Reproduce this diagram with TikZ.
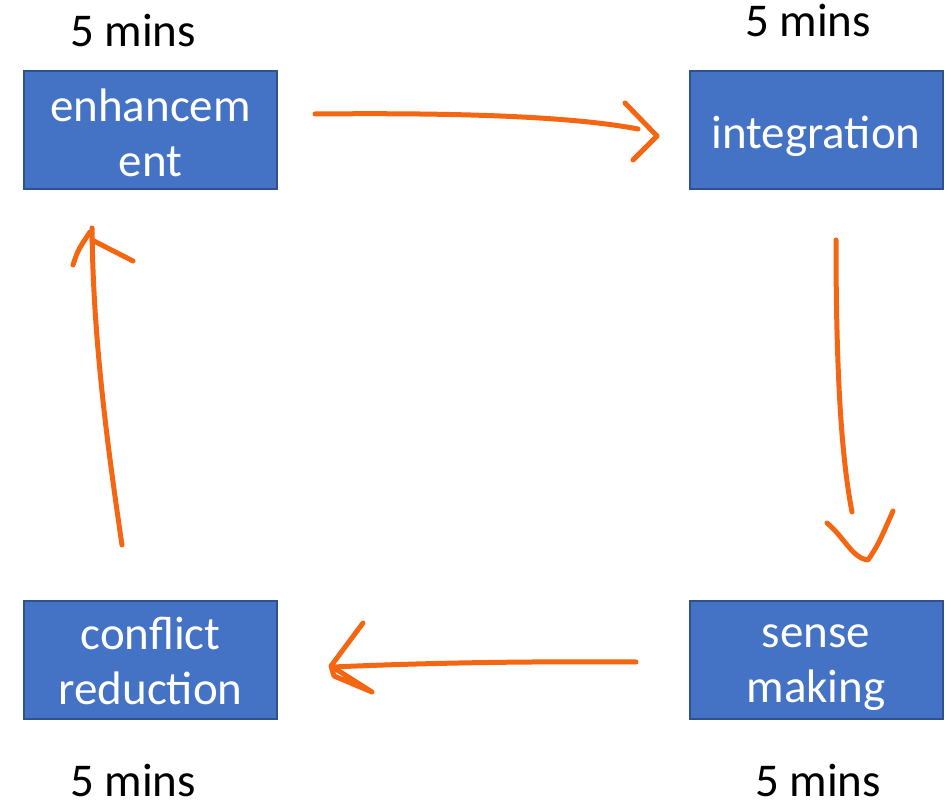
\documentclass[tikz,border=0pt]{standalone}
\usepackage{fontspec}
\setmainfont{Carlito}
\usetikzlibrary{positioning}
\definecolor{boxblue}{RGB}{68,114,196}
\definecolor{boxedge}{RGB}{47,82,143}
\definecolor{penorange}{RGB}{245,102,18}

\begin{document}
\begin{tikzpicture}[x=1pt,y=-1pt,
	stage/.style={rectangle, fill=boxblue, draw=boxedge, line width=2pt, minimum width=253pt, minimum height=118pt},
	boxtext/.style={text=white, align=center, font=\fontsize{47}{55}\selectfont},
	mins/.style={anchor=base, inner sep=0pt, font=\fontsize{47}{55}\selectfont},
	pen/.style={draw=penorange, line width=5pt, line cap=round, line join=round}]
	\useasboundingbox (0,0) rectangle (951,802);
	
	\node[stage, label={[boxtext, yshift=-3pt]center:enhancem\\ent}] (enh) at (150.5,130) {};
	\node[stage, label={[boxtext, yshift=-6pt]center:integration}] (integ) at (816,130) {};
	\node[stage, label={[boxtext, yshift=-8pt]center:sense\\making}] (sense) at (816,660) {};
	\node[stage, label={[boxtext, yshift=-1pt]center:conflict\\reduction}] (conf) at (150.5,660) {};
	
	\node[mins] (t1) at (133,47) {5 mins};
	\node[mins] (t2) at (808,37) {5 mins};
	\node[mins] (t3) at (818,796) {5 mins};
	\node[mins] (t4) at (133,796) {5 mins};
	
	% hand drawn arrows
	\coordinate (enhout) at (315,114);
	\coordinate (integin) at (638,129);
	\coordinate (integout) at (836,240);
	\coordinate (sensein) at (852,512);
	\coordinate (senseout) at (636,662);
	\coordinate (confin) at (333,667);
	\coordinate (confout) at (122,545);
	\coordinate (enhin) at (92,228);
	
	\draw[pen] (enhout) .. controls (420,113) and (560,114) .. (integin);
	\draw[pen] (625,103) -- (657,136) -- (633,160);
	
	\draw[pen] (integout) .. controls (836,380) and (842,460) .. (sensein);
	\draw[pen] (827,523) .. controls (845,538) and (852,558) .. (868,560) .. controls (878,545) .. (893,511);
	
	\draw[pen] (senseout) .. controls (500,661) and (400,664) .. (confin);
	\draw[pen] (363,623) -- (331,666) -- (372,692) -- (334,676) -- (331,666);
	
	\draw[pen] (confout) .. controls (105,430) and (93,330) .. (enhin);
	\draw[pen] (73,265) .. controls (78,250) .. (90,232);
	\draw[pen] (92,240) -- (133,261);
\end{tikzpicture}
\end{document}
